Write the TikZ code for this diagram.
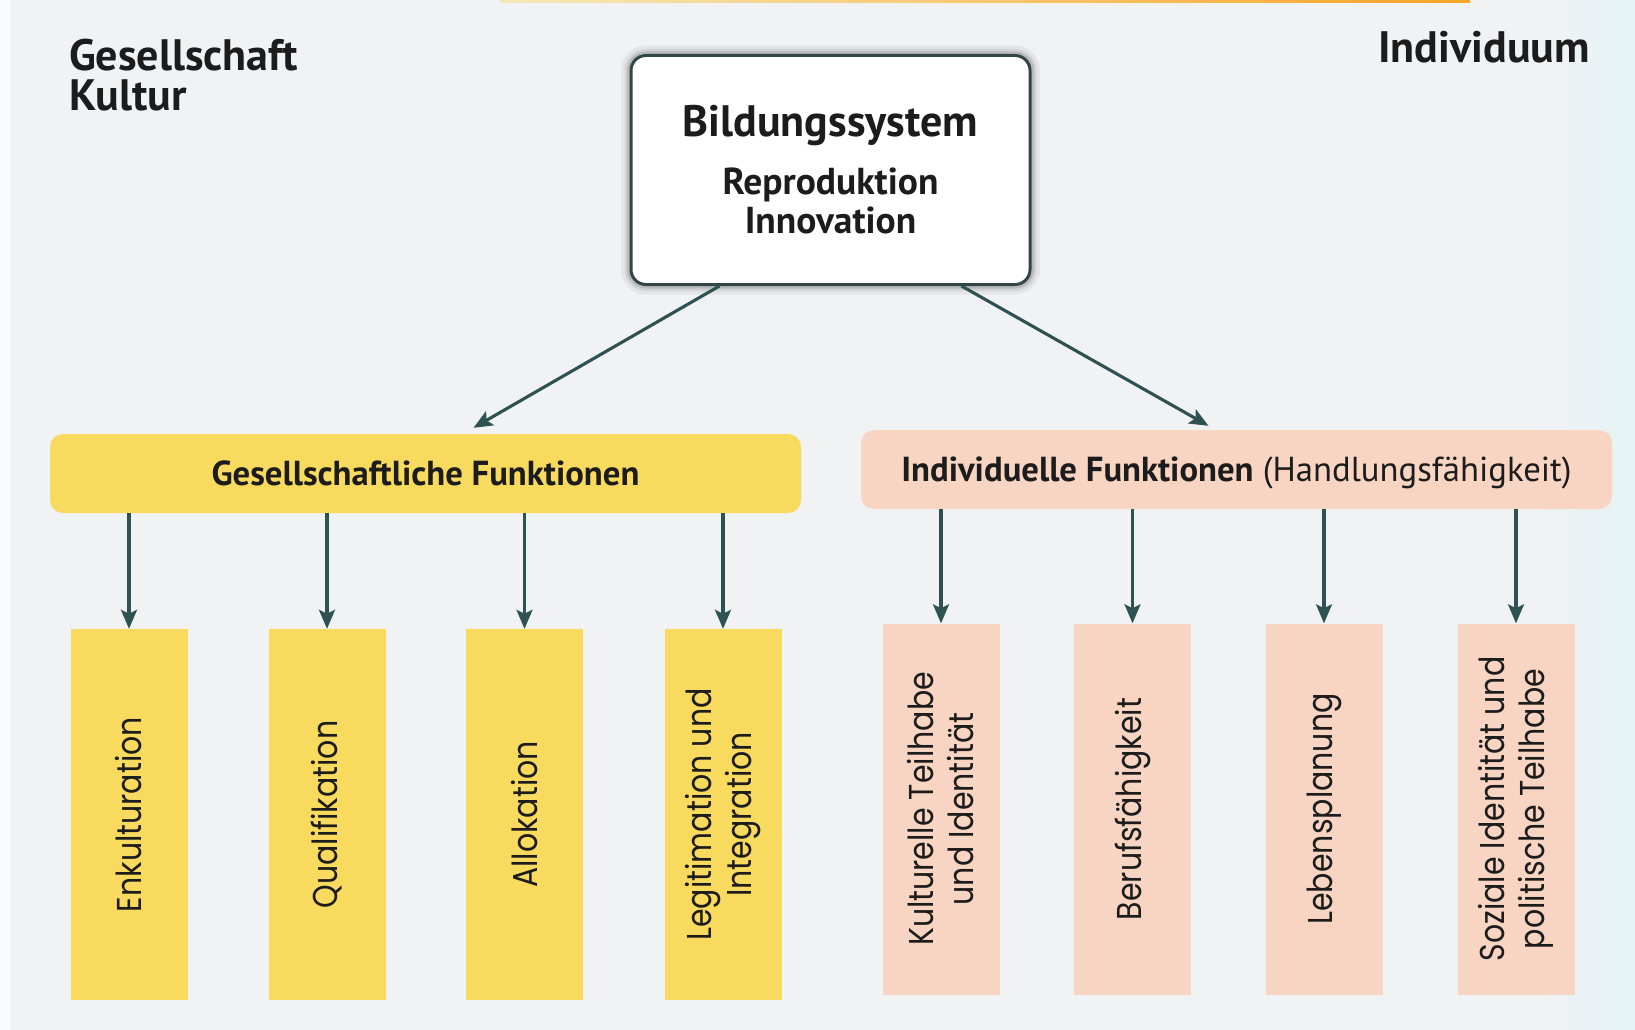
\documentclass[tikz,border=0pt]{standalone}
\usepackage{fontspec}
\setmainfont{PT Sans}
\newfontfamily\labelfont[FakeStretch=0.87]{Poppins}
\usetikzlibrary{arrows.meta,calc}

\definecolor{pagebg}{HTML}{F1F2F4}
\definecolor{gelb}{HTML}{F8DA5F}
\definecolor{lachs}{HTML}{F8D4C2}
\definecolor{pfeil}{HTML}{2E5152}
\definecolor{rahmen}{HTML}{334646}
\definecolor{schrift}{HTML}{1C1C1C}

\tikzset{
  arr/.style={draw=pfeil, line width=3.1pt, -{Stealth[length=19pt,width=16pt,inset=4pt]}},
  sysbox/.style={draw=rahmen, line width=3pt, fill=white, rounded corners=15pt,
    minimum width=399pt, minimum height=229pt,
    preaction={draw=black, line width=20pt, opacity=0.05},
    preaction={draw=black, line width=13pt, opacity=0.08},
    preaction={draw=black, line width=8pt, opacity=0.12}},
  bar/.style={rounded corners=13pt, minimum width=751pt, minimum height=79pt,
    text=schrift, font=\fontsize{34.7}{40}\selectfont,
    text height=29pt, text depth=5pt},
  col/.style={minimum width=117pt, minimum height=371pt},
  vtext/.style={rotate=90, align=center, text=schrift,
    font=\labelfont\fontsize{34.5}{40}\selectfont},
  head/.style={text=schrift, font=\bfseries\fontsize{44}{40}\selectfont,
    align=left, inner sep=0pt}
}

\begin{document}
\begin{tikzpicture}[x=1pt,y=-1pt]
  % page
  \useasboundingbox (0,0) rectangle (1635,1030);
  \fill[pagebg] (0,0) rectangle (1635,1030);
  \fill[white!60!pagebg] (0,0) rectangle (11,1030);
  \shade[left color=pagebg, right color=cyan!5!pagebg] (1530,0) rectangle (1635,1030);
  \shade[left color=gelb!40!pagebg, right color=orange!60!gelb] (500,0) rectangle (1470,2.5);

  % corner titles
  \node[head, anchor=north west] (ges) at (69,39) {Gesellschaft\\Kultur};
  \node[head, anchor=base east] (indiv) at (1590,63) {Individuum};

  % Bildungssystem
  \node[sysbox] (bild) at (830.5,170) {};
  \node[text=schrift, font=\bfseries\fontsize{44}{48}\selectfont, anchor=base]
    (bildname) at ($(bild.north)+(0,82)$) {Bildungssystem};
  \node[text=schrift, font=\bfseries\fontsize{37.5}{40}\selectfont, anchor=base]
    (repro) at ($(bild.north)+(0,140)$) {Reproduktion};
  \node[text=schrift, font=\bfseries\fontsize{37.5}{40}\selectfont, anchor=base]
    (innov) at ($(bild.north)+(0,179)$) {Innovation};

  % Funktionen
  \node[bar, fill=gelb] (gesf) at (425.5,473.5) {\bfseries Gesellschaftliche Funktionen};
  \node[bar, fill=lachs] (indf) at (1236.5,469.5)
    {{\bfseries Individuelle Funktionen} (Handlungsfähigkeit)};

  \draw[arr] ([xshift=-111pt]bild.south) -- ([xshift=48pt,yshift=6pt]gesf.north);
  \draw[arr] ([xshift=131pt]bild.south) -- ([xshift=-28pt,yshift=4pt]indf.north);

  % gesellschaftliche Funktionen
  \foreach \n/\x/\txt in {1/129/Enkulturation, 2/327/Qualifikation,
      3/524.5/Allokation, 4/723/{Legitimation und\\Integration}}{
    \node[col, fill=gelb] (g\n) at (\x,814.5) {};
    \node[vtext] (gt\n) at (g\n) {\txt};
    \draw[arr] (gesf.south -| g\n.north) -- (g\n.north);
  }

  % individuelle Funktionen
  \foreach \n/\x/\txt in {1/941/{Kulturelle Teilhabe\\und Identität}, 2/1132.5/Berufsfähigkeit,
      3/1324/Lebensplanung, 4/1516/{Soziale Identität und\\politische Teilhabe}}{
    \node[col, fill=lachs] (i\n) at (\x,809) {};
    \node[vtext] (it\n) at (i\n) {\txt};
    \draw[arr] (indf.south -| i\n.north) -- (i\n.north);
  }
\end{tikzpicture}
\end{document}
